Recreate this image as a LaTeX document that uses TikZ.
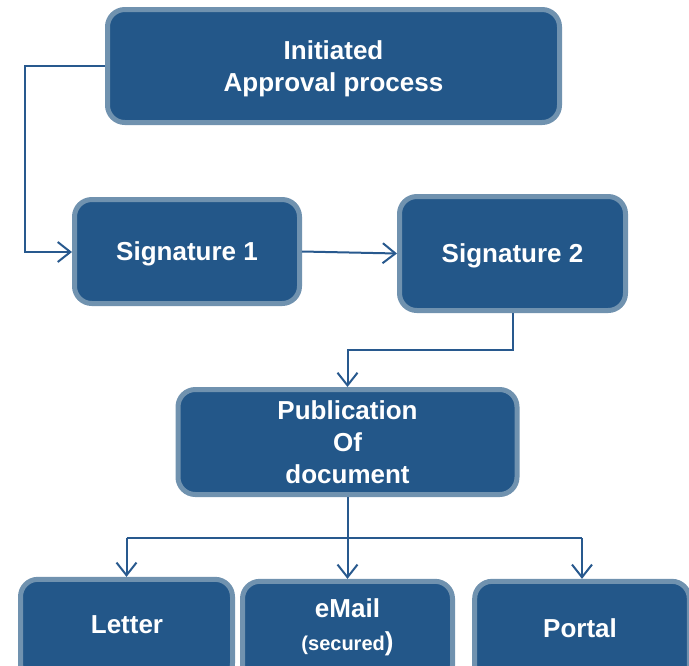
\documentclass[tikz,border=0pt]{standalone}
\usepackage{fontspec}
\setmainfont{Liberation Sans}
\usetikzlibrary{arrows.meta}
\definecolor{boxfill}{RGB}{35,87,137}
\definecolor{boxedge}{RGB}{112,146,175}
\definecolor{linkblue}{RGB}{40,89,142}
\tikzset{
  box/.style={draw=boxedge, fill=boxfill, line width=3.75pt, rounded corners=13pt,
    text=white, font=\bfseries\fontsize{19.5}{24}\selectfont, align=center, inner sep=0pt},
  oneline/.style={text height=14pt, text depth=0pt},
  lbl/.style={text=white, font=\bfseries\fontsize{19.5}{24}\selectfont, inner sep=0pt, text height=14pt, text depth=0pt},
  link/.style={draw=linkblue, line width=1.5pt},
  arr/.style={link, -{Straight Barb[length=9.5pt,width=15pt,line width=1.5pt]}},
}
\begin{document}
\begin{tikzpicture}[x=0.75pt,y=-0.75pt]
\useasboundingbox (0,0) rectangle (689,665);
\node[box, minimum width=339pt, minimum height=84.75pt] (init) at (333.5,66) {};
\node[lbl] (initt1) at (333.5,50) {Initiated};
\node[lbl] (initt2) at (333.5,82) {Approval process};
\node[box, oneline, minimum width=168.75pt, minimum height=78pt] (sig1) at (187,251.5) {Signature 1};
\node[box, oneline, minimum width=169.5pt, minimum height=85.5pt] (sig2) at (512.5,253.5) {Signature 2};
\node[box, minimum width=254.25pt, minimum height=78.75pt] (pub) at (347.5,442) {Publication\\Of\\document};
\node[box, minimum width=159pt, minimum height=76pt] (letter) at (126.5,630) {};
\node[box, minimum width=157.5pt, minimum height=76pt] (email) at (347.5,632) {};
\node[box, minimum width=161pt, minimum height=76pt] (portal) at (582,632) {};
\node[lbl] (lettert) at (127,624) {Letter};
\node[lbl] (portalt) at (580,628) {Portal};
\node[text=white, font=\bfseries\fontsize{19.5}{24}\selectfont, anchor=base, inner sep=0pt] (emailt) at (347.5,617) {eMail};
\node[text=white, font=\bfseries\fontsize{19.5}{24}\selectfont, anchor=base, inner sep=0pt] (sect) at (347.5,650) {{\fontsize{15}{18}\selectfont(secured})};
\coordinate (c1) at (25,66);
\coordinate (c2) at (25,252);
\coordinate (hub) at (347.5,538);
\draw[arr] (init.west |- c1) -- (c1) -- (c2) -- (sig1.west |- c2);
\draw[arr] (sig1.east) -- (sig2.west);
\draw[arr] (sig2.south) -- ++(0,37) -| (pub.north);
\draw[link] (pub.south) -- (hub);
\draw[link] (letter.north |- hub) -- (portal.north |- hub);
\draw[arr] (letter.north |- hub) -- (letter.north);
\draw[arr] (hub) -- (email.north);
\draw[arr] (portal.north |- hub) -- (portal.north);
\end{tikzpicture}
\end{document}
